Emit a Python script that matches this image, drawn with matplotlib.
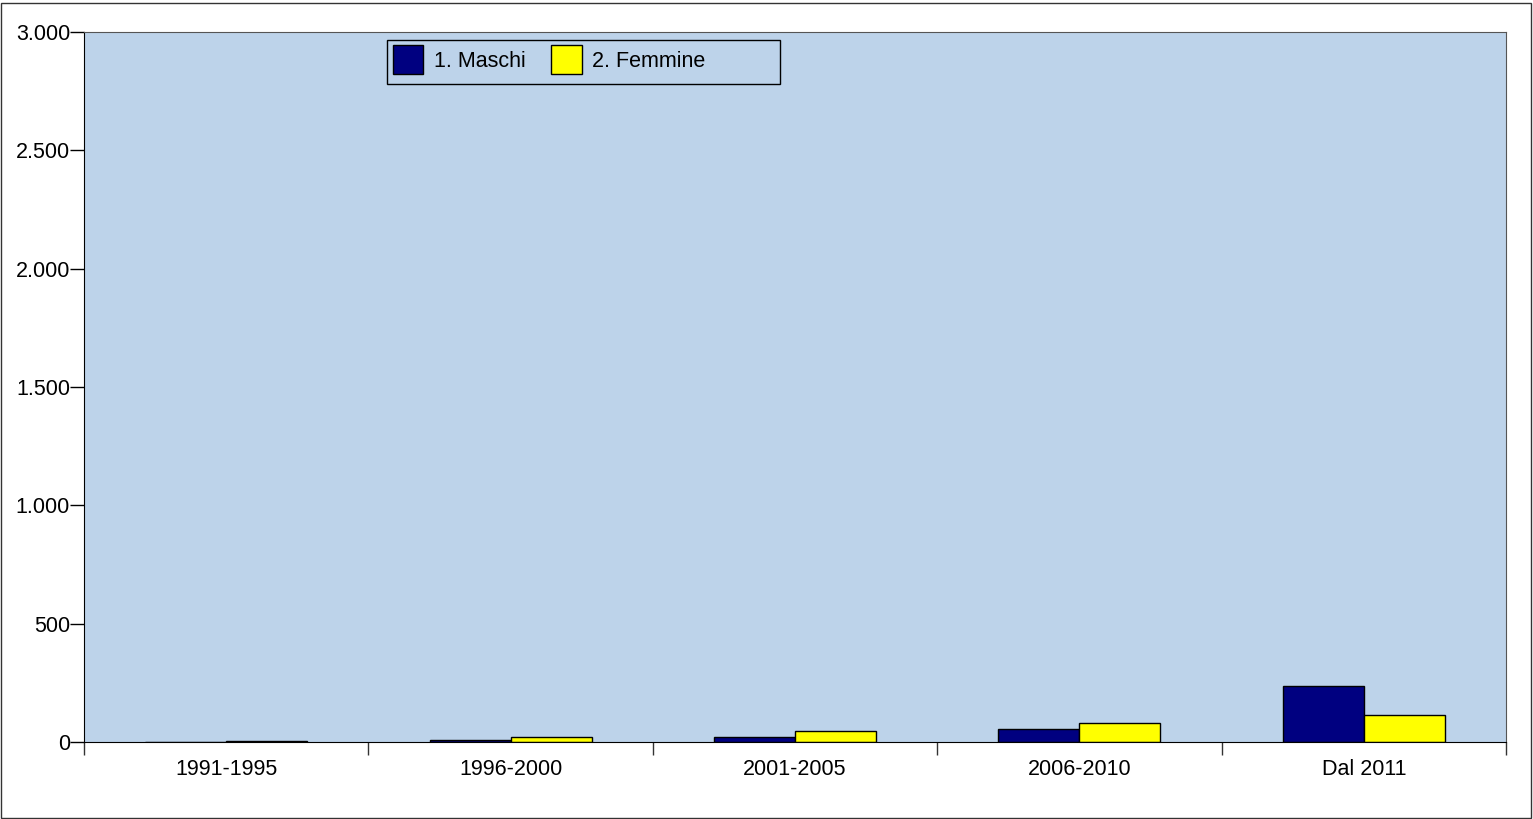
import numpy as np
import matplotlib.pyplot as plt
from matplotlib.patches import Rectangle
from matplotlib.ticker import FuncFormatter

plt.rcParams['font.family'] = ['Liberation Sans', 'DejaVu Sans']

periodi = ['1991-1995', '1996-2000', '2001-2005', '2006-2010', 'Dal 2011']
maschi = [2, 10, 21, 55, 235]
femmine = [3, 22, 45, 79, 112]

W, H = 1533, 819
fig = plt.figure(figsize=(W/100, H/100), dpi=100)
ax = fig.add_axes([84/W, 77/H, 1422/W, 710/H])
ax.set_facecolor('#bdd3ea')

x = np.arange(len(periodi))
w = 0.285
ax.bar(x - w/2, maschi, w, color='#000080', edgecolor='black', linewidth=1, label='1. Maschi')
ax.bar(x + w/2, femmine, w, color='#ffff00', edgecolor='black', linewidth=1, label='2. Femmine')

ax.set_xlim(-0.5, len(periodi) - 0.5)
ax.set_ylim(0, 3000)
ax.set_yticks(np.arange(0, 3001, 500))
ax.yaxis.set_major_formatter(FuncFormatter(lambda v, p: f'{int(v):,}'.replace(',', '.')))

# etichette al centro, tacche ai bordi delle categorie
ax.set_xticks(x)
ax.set_xticklabels(periodi)
ax.set_xticks(np.arange(-0.5, len(periodi)), minor=True)
ax.tick_params(axis='x', which='major', length=0, pad=12, labelsize=15.5)
ax.tick_params(axis='x', which='minor', length=9, width=1, color='#333333')
ax.tick_params(axis='y', length=10, width=1, labelsize=15.5, pad=0)

for s in ['top', 'right']:
    ax.spines[s].set_color('#555555')
for s in ['left', 'bottom']:
    ax.spines[s].set_color('black')

leg = ax.legend(loc='upper left', bbox_to_anchor=((393-84)/1422, 1 - (45-32)/710), ncol=2,
                fontsize=15.5, frameon=False, handlelength=1.4, handleheight=1.7,
                handletextpad=0.5, columnspacing=1.2, borderpad=0, borderaxespad=0)

# riquadro legenda
fig.patches.append(Rectangle((387/W, (H-84)/H), 393/W, 44/H, transform=fig.transFigure,
                             fill=False, edgecolor='black', linewidth=1, zorder=5))
# cornice esterna
fig.patches.append(Rectangle((1/W, 1/H), 1530/W, 815/H, transform=fig.transFigure,
                             fill=False, edgecolor='#333333', linewidth=1))

fig.savefig('out.png', dpi=100)
